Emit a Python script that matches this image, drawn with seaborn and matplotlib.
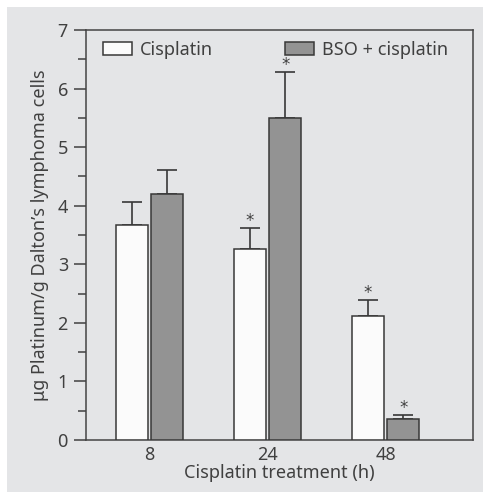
import numpy as np
import pandas as pd
import seaborn as sns
import matplotlib.pyplot as plt
from matplotlib.patches import Rectangle
from matplotlib.ticker import MultipleLocator

# ----------------------------
# Data
# ----------------------------
times = ["8", "24", "48"]
groups = ["Cisplatin", "BSO + cisplatin"]
cis_mean = [3.67, 3.26, 2.11]
cis_err = [0.40, 0.36, 0.28]
bso_mean = [4.20, 5.50, 0.36]
bso_err = [0.41, 0.79, 0.06]
cis_star = [False, True, True]
bso_star = [False, True, True]

df = pd.DataFrame({
    "time": times * 2,
    "group": [groups[0]] * 3 + [groups[1]] * 3,
    "value": cis_mean + bso_mean,
})

# ----------------------------
# Style
# ----------------------------
BG = "#e4e5e7"
INK = "#404040"
sns.set_theme(style="white")
plt.rcParams.update({
    "font.family": ["Noto Sans", "DejaVu Sans"],
    "font.size": 13,
    "text.color": INK,
    "axes.labelcolor": INK,
    "xtick.color": INK,
    "ytick.color": INK,
})

fig = plt.figure(figsize=(4.83, 4.92), dpi=100)
fig.patch.set_facecolor("white")
fig.patches.append(Rectangle((7 / 483, 0), 1, (492 - 7) / 492,
                             transform=fig.transFigure, facecolor=BG,
                             edgecolor="none", zorder=-10))
ax = fig.add_axes([86 / 483, 52 / 492, 387 / 483, 410 / 492])
ax.set_facecolor(BG)

sns.barplot(
    data=df, x="time", y="value", hue="group", order=times,
    hue_order=groups, palette=["#fbfbfb", "#939393"],
    width=0.6, gap=0.1, edgecolor="#383838", linewidth=1.1,
    errorbar=None, ax=ax, zorder=3,
)

# error bars (upward only) + significance stars
bars = ax.patches[:6]
means = cis_mean + bso_mean
errs = cis_err + bso_err
stars = cis_star + bso_star
for bar, m, e, s in zip(bars, means, errs, stars):
    xc = bar.get_x() + bar.get_width() / 2
    ax.errorbar(xc, m, yerr=[[0], [e]], color="#383838", elinewidth=1.2,
                capsize=7, capthick=1.2, zorder=2)
    if s:
        ax.text(xc, m + e + 0.12, "*", ha="center", va="center",
                fontsize=12, color=INK, fontfamily="DejaVu Sans")

ax.set_ylim(0, 7)
ax.set_xlim(-0.54, 2.74)
ax.yaxis.set_major_locator(MultipleLocator(1))
ax.yaxis.set_minor_locator(MultipleLocator(0.5))
ax.tick_params(axis="y", which="major", length=9, width=1.1, direction="out",
               left=True, labelsize=13, pad=4)
ax.tick_params(axis="y", which="minor", length=5.5, width=1.1, left=True)
ax.tick_params(axis="x", length=0, labelsize=13, pad=4)
for sp in ax.spines.values():
    sp.set_visible(True)
    sp.set_color("#444444")
    sp.set_linewidth(1.1)

ax.set_xlabel("Cisplatin treatment (h)", fontsize=13, labelpad=0)
ax.set_ylabel("\u03bcg Platinum/g Dalton\u2019s lymphoma cells", fontsize=13,
              labelpad=6)

ax.legend(
    loc="upper left", bbox_to_anchor=(0.015, 1.0), ncol=2, frameon=False,
    fontsize=13, handlelength=1.6, handleheight=0.75, handletextpad=0.45,
    columnspacing=4.0, borderaxespad=0.2,
)

fig.savefig("out.png", dpi=100)
